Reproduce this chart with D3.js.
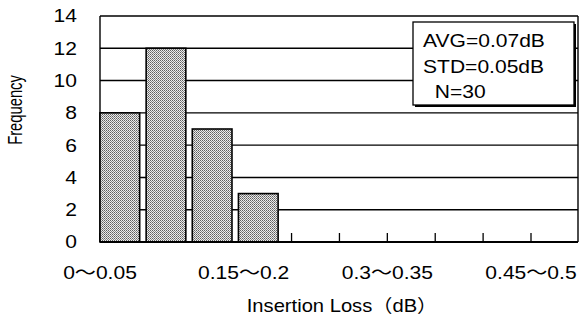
<!DOCTYPE html>
<html>
<head>
<meta charset="utf-8">
<script src="https://cdn.jsdelivr.net/npm/d3@7"></script>
<style>
  body { margin: 0; background: #fff; }
  text { font-family: "Liberation Sans", Arial, "Noto Sans CJK JP", sans-serif; fill: #000; }
</style>
</head>
<body>
<svg width="582" height="322"></svg>
<script>
// data
var categories = ["0～0.05", "0.05～0.1", "0.1～0.15", "0.15～0.2", "0.2～0.25",
                  "0.25～0.3", "0.3～0.35", "0.35～0.4", "0.4～0.45", "0.45～0.5"];
var counts = [8, 12, 7, 3, 0, 0, 0, 0, 0, 0];
var yTicks = [0, 2, 4, 6, 8, 10, 12, 14];
var shownLabels = ["0～0.05", "0.15～0.2", "0.3～0.35", "0.45～0.5"];
var stats = ["AVG=0.07dB", "STD=0.05dB", "  N=30"];

var svg = d3.select("svg");
var plotL = 100, plotR = 578, plotT = 16, plotB = 242;
var sx = 1.17; // the scanned text is stretched sideways

var y = d3.scaleLinear().domain([0, 14]).range([plotB, plotT]);
var xBar = d3.scaleBand().domain(categories).range([100, 555]).paddingInner(0.14).paddingOuter(0).align(0);
var xTick = d3.scalePoint().domain(categories).range([100, 531]);

// stipple pattern for the bars
var defs = svg.append("defs");
var pat = defs.append("pattern").attr("id", "stip")
    .attr("patternUnits", "userSpaceOnUse").attr("width", 2).attr("height", 2);
pat.append("rect").attr("width", 2).attr("height", 2).attr("fill", "#ebebeb");
pat.append("rect").attr("width", 1).attr("height", 1).attr("fill", "#5e5e5e");
pat.append("rect").attr("x", 1).attr("y", 1).attr("width", 1).attr("height", 1).attr("fill", "#858585");

// grid lines
svg.selectAll(".grid").data(yTicks.filter(function(d){return d > 0;}))
  .enter().append("line")
    .attr("x1", plotL).attr("x2", plotR)
    .attr("y1", function(d){return y(d);}).attr("y2", function(d){return y(d);})
    .attr("stroke", "#000").attr("stroke-width", 1.4);

// plot frame
svg.append("line").attr("x1", plotL).attr("x2", plotL).attr("y1", plotT).attr("y2", plotB)
    .attr("stroke", "#000").attr("stroke-width", 1.4);
svg.append("line").attr("x1", plotR).attr("x2", plotR).attr("y1", plotT).attr("y2", plotB)
    .attr("stroke", "#000").attr("stroke-width", 1.4);

// small inside ticks
svg.selectAll(".tick").data(categories).enter().append("line")
    .attr("x1", function(d){return xTick(d);}).attr("x2", function(d){return xTick(d);})
    .attr("y1", plotB).attr("y2", plotB - 9)
    .attr("stroke", "#000").attr("stroke-width", 1.3);

// bars
svg.selectAll(".bar").data(counts.map(function(c, i){return {cat: categories[i], v: c};}).filter(function(d){return d.v > 0;}))
  .enter().append("rect")
    .attr("x", function(d){return xBar(d.cat);})
    .attr("y", function(d){return y(d.v);})
    .attr("width", xBar.bandwidth())
    .attr("height", function(d){return plotB - y(d.v);})
    .attr("fill", "url(#stip)")
    .attr("stroke", "#000").attr("stroke-width", 1.6);

// baseline
svg.append("line").attr("x1", plotL).attr("x2", plotR).attr("y1", plotB).attr("y2", plotB)
    .attr("stroke", "#000").attr("stroke-width", 2);

// y tick labels
svg.selectAll(".ylab").data(yTicks).enter().append("text")
    .attr("transform", function(d){return "translate(77," + y(d) + ") scale(" + sx + ",1)";})
    .attr("text-anchor", "end").attr("dy", "0.36em")
    .attr("font-size", 18)
    .text(function(d){return d;});

// x tick labels
svg.selectAll(".xlab").data(shownLabels).enter().append("text")
    .attr("transform", function(d){return "translate(" + xTick(d) + ",279) scale(" + sx + ",1)";})
    .attr("text-anchor", "middle")
    .attr("font-size", 18)
    .text(function(d){return d;});

// axis titles
svg.append("text")
    .attr("transform", "translate(22,110) rotate(-90) scale(0.82,1.12)")
    .attr("text-anchor", "middle").attr("font-size", 18)
    .text("Frequency");
svg.append("text")
    .attr("transform", "translate(342,312) scale(1.12,1)")
    .attr("text-anchor", "middle").attr("font-size", 18)
    .text("Insertion Loss（dB）");

// stats box
var bx = 413, by = 22, bw = 161, bh = 83;
svg.append("rect").attr("x", bx + 2).attr("y", by + 2).attr("width", bw).attr("height", bh).attr("fill", "#000");
svg.append("rect").attr("x", bx).attr("y", by).attr("width", bw).attr("height", bh)
    .attr("fill", "#fff").attr("stroke", "#000").attr("stroke-width", 1.3);
svg.selectAll(".stat").data(stats).enter().append("text")
    .attr("transform", function(d, i){return "translate(423," + (47 + i * 25.5) + ") scale(" + sx + ",1)";})
    .attr("font-size", 18)
    .style("white-space", "pre")
    .text(function(d){return d;});
</script>
</body>
</html>
